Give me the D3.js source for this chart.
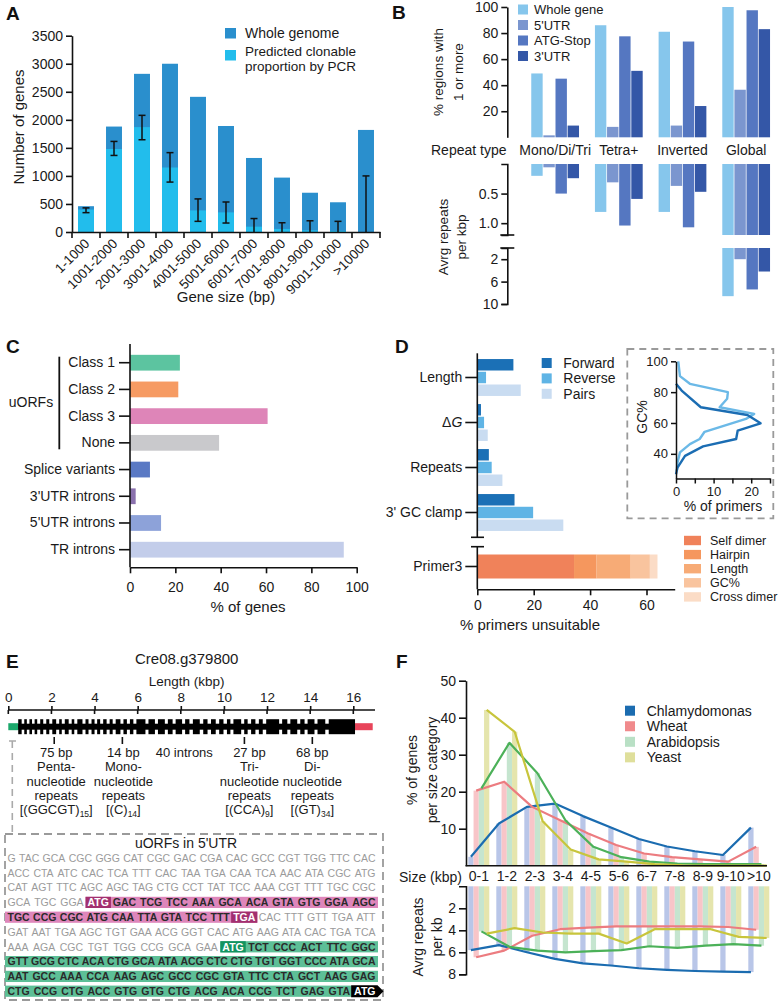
<!DOCTYPE html>
<html><head><meta charset="utf-8">
<script src="https://cdn.jsdelivr.net/npm/d3@7"></script>
<style>
body{margin:0;background:#fff}
svg{display:block;font-family:"Liberation Sans",Arial,Helvetica,sans-serif}
</style></head><body>
<svg id="fig" width="778" height="1001"></svg>
<script>
// ---------- DATA ----------
// Panel A
const sizeCats = ["1-1000","1001-2000","2001-3000","3001-4000","4001-5000","5001-6000","6001-7000","7001-8000","8001-9000","9001-10000",">10000"];
const wholeGenome = [460,1880,2820,3000,2410,1890,1320,970,700,530,1820];
const clonable = [400,1480,1870,1150,385,350,95,55,30,20,0];
const clonableLow = [345,1365,1645,890,190,160,0,0,0,0,0];
const clonableHigh = [430,1615,2080,1415,590,535,240,165,200,190,1000];
const yTicksA = [0,500,1000,1500,2000,2500,3000,3500];
// Panel B
const repeatTypes = ["Mono/Di/Tri","Tetra+","Inverted","Global"];
const regionNames = ["Whole gene","5'UTR","ATG-Stop","3'UTR"];
const pctWhole = [49,86,81,100];
const pct5UTR = [1.5,8,9,36.5];
const pctATG = [45,77.5,73.5,97.5];
const pct3UTR = [9,51,24,83];
const avgWhole = [0.2,0.81,0.81,8.6];
const avg5UTR = [0.056,0.31,0.37,2.0];
const avgATG = [0.5,1.04,1.07,7.4];
const avg3UTR = [0.24,0.59,0.47,4.2];
// Panel C
const featureCats = ["Class 1","Class 2","Class 3","None","Splice variants","3'UTR introns","5'UTR introns","TR introns"];
const featurePct = [22,21.3,60.7,39.3,8.8,2.5,13.7,94.3];
// Panel D
const checkCats = ["Length","ΔG","Repeats","3' GC clamp"];
const primerSets = ["Forward","Reverse","Pairs"];
const fwdPct = [12.8,1.3,4.1,13.2];
const revPct = [3.1,2.4,5.1,19.8];
const pairPct = [15.4,3.7,8.9,30.5];
const primer3Reasons = ["Self dimer","Hairpin","Length","GC%","Cross dimer"];
const primer3Pct = [34.3,8.0,12.1,6.8,2.7];
const insetFwdPct = [0,1.5,6.6,19,22.5,16.4,16,7.2,2.4,0.4,0];
const insetFwdGC = [85.4,81,70.2,65.2,59.8,55,49.6,44.8,38.7,31.1,26.7];
const insetRevPct = [0.6,1.05,3.7,13.8,13.6,11.6,20.8,18.6,7.6,6.3,3.7,1.05,0.4,0.2];
const insetRevGC = [100,90.4,85.4,80,75.7,70.2,65.9,62.6,54.3,49.6,46.3,40.9,34.3,28.9];
// Panel E
const geneLenTicks = [0,2,4,6,8,10,12,14,16];
const utr5 = [0,0.46];
const utr3 = [16.08,16.9];
const exons = [[0.46,0.62],[0.74,0.86],[0.98,1.10],[1.22,1.34],[1.48,1.62],[1.76,1.90],[2.04,2.22],[2.36,2.48],[2.62,2.80],[2.94,3.06],
 [3.20,3.44],[3.58,3.72],[3.86,4.00],[4.12,4.26],[4.40,4.56],[4.70,4.84],[4.98,5.20],[5.34,5.50],[5.64,5.80],[5.94,6.36],
 [6.50,6.80],[6.94,7.26],[7.40,7.62],[7.76,8.06],[8.20,8.40],[8.56,8.88],[9.04,9.24],[9.40,9.62],[9.78,9.98],[10.14,10.30],
 [10.44,10.80],[10.94,11.10],[11.26,11.46],[11.62,11.80],[11.96,12.56],[12.70,12.94],[13.08,13.40],[13.54,13.74],[13.88,14.20],[14.34,14.70],[14.86,16.08]];
const repeatPos = [2.13,5.29,10.95,14.1];
const repeatSize = ["75 bp","14 bp","27 bp","68 bp"];
const repeatKind = ["Penta-","Mono-","Tri-","Di-"];
const repeatMotif = ["(GGCGT)","(C)","(CCA)","(GT)"];
const repeatCount = ["15","14","9","34"];
const seqLines = [
  "G TAC GCA CGC GGG CAT CGC GAC CGA CAC GCC CGT TGG TTC CAC",
  "ACC CTA ATC CAC TCA TTT CAC TAA TGA CAA TCA AAC ATA CGC ATG",
  "CAT AGT TTC AGC AGC TAG CTG CCT TAT TCC AAA CGT TTT TGC CGC",
  "GCA TGC GGA ATG GAC TCG TCC AAA GCA ACA GTA GTG GGA AGC",
  "TGC CCG CGC ATG CAA TTA GTA TCC TTT TGA CAC TTT GTT TGA ATT",
  "GAT AAT TGA AGC TGT GAA ACG GGT CAC ATG AAG ATA CAC TGA TCA",
  "AAA AGA CGC TGT TGG CCG GCA GAA ATG TCT CCC ACT TTC GGC",
  "GTT GCG CTC ACA CTG GCA ATA ACG CTC CTG TGT GGT CCC ATA GCA",
  "AAT GCC AAA CCA AAG AGC GCC CGC GTA TTC CTA GCT AAG GAG",
  "CTG CCG CTG ACC GTG GTG CTG ACG ACA CCG TCT GAG GTA ATG"
];
const seqMarks = [
  "ggggggggggggggg","ggggggggggggggg","ggggggggggggggg","gggPpppppppppp","pppppppppPggggg",
  "ggggggggggggggg","ggggggggEeeeee","eeeeeeeeeeeeeee","eeeeeeeeeeeeee","eeeeeeeeeeeeeK"
];
// Panel F
const sizeBins = ["0-1","1-2","2-3","3-4","4-5","5-6","6-7","7-8","8-9","9-10",">10"];
const species = ["Chlamydomonas","Wheat","Arabidopsis","Yeast"];
const pctChlamy = [2.4,11.4,15.9,16.8,13.4,10.3,7.2,5.2,3.9,2.9,10.3];
const pctWheat = [20.3,22.7,15.9,12.3,8.7,5.6,3.3,2.3,1.7,1.1,5.1];
const pctArab = [20.9,33.2,25,12.3,5.1,2.3,1.1,0.6,0.4,0.4,0.4];
const pctYeast = [42.1,36.2,12,4.4,1.7,1.1,0.4,0.1,0,0,0];
const repChlamy = [5.8,5.35,6.0,6.6,7.0,7.2,7.45,7.6,7.7,7.75,7.8];
const repWheat = [6.45,5.85,4.5,3.9,3.75,3.65,3.65,3.65,3.65,3.7,3.95];
const repArab = [4.1,5.5,5.85,6.0,5.9,5.8,5.45,5.6,5.4,5.25,5.4];
const repYeast = [4.3,3.8,4.2,4.3,4.3,5.2,3.9,3.9,3.9,4.6,4.7];

// ---------- HELPERS ----------
const svg = d3.select("#fig");
const INK = "#1a1a1a";
function txt(g, x, y, s, o = {}) {
  const t = g.append("text").attr("x", x).attr("y", y).text(s)
    .attr("font-size", o.size || 14).attr("fill", o.fill || INK)
    .attr("text-anchor", o.anchor || "start");
  if (o.weight) t.attr("font-weight", o.weight);
  if (o.dy) t.attr("dy", o.dy);
  if (o.rotate) t.attr("transform", `rotate(${o.rotate},${x},${y})`);
  return t;
}
function styleAxis(g, size = 14, sw = 1.6) {
  g.attr("font-family", null).attr("font-size", size);
  g.selectAll("path.domain").attr("stroke", "#111").attr("stroke-width", sw);
  g.selectAll(".tick line").attr("stroke", "#111").attr("stroke-width", sw);
  g.selectAll(".tick text").attr("fill", INK);
  return g;
}
function vline(g, x, y1, y2, sw = 1.6, col = "#111") {
  return g.append("line").attr("x1", x).attr("x2", x).attr("y1", y1).attr("y2", y2).attr("stroke", col).attr("stroke-width", sw);
}
function hline(g, x1, x2, y, sw = 1.6, col = "#111") {
  return g.append("line").attr("x1", x1).attr("x2", x2).attr("y1", y).attr("y2", y).attr("stroke", col).attr("stroke-width", sw);
}
function panelLetter(x, y, s) { txt(svg, x, y, s, { size: 19, weight: "bold", fill: "#111" }); }

// ---------- PANEL A ----------
(function () {
  const g = svg.append("g");
  const x = d3.scaleBand().domain(sizeCats).range([72, 380]).paddingInner(0.43).paddingOuter(0.215);
  const y = d3.scaleLinear().domain([0, 3500]).range([232, 35.7]);
  g.selectAll("rect.w").data(sizeCats).join("rect").attr("class", "w")
    .attr("x", d => x(d)).attr("width", x.bandwidth())
    .attr("y", (d, i) => y(wholeGenome[i])).attr("height", (d, i) => y(0) - y(wholeGenome[i])).attr("fill", "#2a8fcd");
  g.selectAll("rect.c").data(sizeCats).join("rect").attr("class", "c")
    .attr("x", d => x(d)).attr("width", x.bandwidth())
    .attr("y", (d, i) => y(clonable[i])).attr("height", (d, i) => y(0) - y(clonable[i])).attr("fill", "#22bdec");
  sizeCats.forEach((d, i) => {
    const cx = x(d) + x.bandwidth() / 2;
    vline(g, cx, y(clonableLow[i]), y(clonableHigh[i]), 1.5);
    hline(g, cx - 3.5, cx + 3.5, y(clonableHigh[i]), 1.5);
    if (clonableLow[i] > 0) hline(g, cx - 3.5, cx + 3.5, y(clonableLow[i]), 1.5);
  });
  const ay = g.append("g").attr("transform", "translate(72,0)")
    .call(d3.axisLeft(y).tickValues(yTicksA).tickFormat(d3.format("d")).tickSize(6).tickSizeOuter(0));
  styleAxis(ay, 14);
  const ax = g.append("g").attr("transform", "translate(0,232)")
    .call(d3.axisBottom(x).tickSize(0).tickSizeOuter(0));
  styleAxis(ax, 13.5);
  ax.selectAll(".tick text").attr("x", 0).attr("y", 0).attr("dy", "0.35em")
    .attr("text-anchor", "end").attr("transform", "translate(1,9) rotate(-45)");
  const half = (x.step() - x.bandwidth()) / 2;
  sizeCats.forEach(d => vline(g, x(d) - half, 232, 238));
  vline(g, x(sizeCats[sizeCats.length - 1]) + x.bandwidth() + half, 232, 238);
  txt(g, 226, 302, "Gene size (bp)", { size: 15, anchor: "middle" });
  txt(g, 18.5, 127, "Number of genes", { size: 15, anchor: "middle", rotate: -90, dy: "0.35em" });
  // legend
  g.append("rect").attr("x", 225).attr("y", 28).attr("width", 11).attr("height", 10.5).attr("fill", "#2a8fcd");
  g.append("rect").attr("x", 225).attr("y", 50).attr("width", 11).attr("height", 10.5).attr("fill", "#22bdec");
  txt(g, 245, 33, "Whole genome", { size: 14, dy: "0.35em" });
  txt(g, 245, 51.5, "Predicted clonable", { size: 13.5, dy: "0.35em" });
  txt(g, 245, 65.8, "proportion by PCR", { size: 13.5, dy: "0.35em" });
  panelLetter(6, 20, "A");
})();

// ---------- PANEL B ----------
(function () {
  const g = svg.append("g");
  const colors = ["#86c6ec", "#7b96cf", "#5577c1", "#3457a7"];
  const pctBy = [pctWhole, pct5UTR, pctATG, pct3UTR];
  const avgBy = [avgWhole, avg5UTR, avgATG, avg3UTR];
  const x0 = d3.scaleBand().domain(repeatTypes).range([523.3, 778]).paddingInner(0.25).paddingOuter(0.125);
  const x1 = d3.scaleBand().domain(regionNames).range([0, x0.bandwidth()]).paddingInner(0.06);
  const yT = d3.scaleLinear().domain([0, 100]).range([137.3, 7]);
  const yU = d3.scaleLinear().domain([0, 1.2]).range([164, 235]);
  const yL = d3.scaleLinear().domain([0, 10]).range([248, 304]);
  repeatTypes.forEach((rt, i) => {
    regionNames.forEach((rn, j) => {
      const bx = x0(rt) + x1(rn), bw = x1.bandwidth();
      const v = pctBy[j][i];
      g.append("rect").attr("x", bx).attr("width", bw).attr("y", yT(v)).attr("height", yT(0) - yT(v)).attr("fill", colors[j]);
      const a = avgBy[j][i];
      if (a <= 1.2) {
        g.append("rect").attr("x", bx).attr("width", bw).attr("y", yU(0)).attr("height", yU(a) - yU(0)).attr("fill", colors[j]);
      } else {
        g.append("rect").attr("x", bx).attr("width", bw).attr("y", yU(0)).attr("height", yU(1.2) - yU(0)).attr("fill", colors[j]);
        g.append("rect").attr("x", bx).attr("width", bw).attr("y", yL(0)).attr("height", yL(a) - yL(0)).attr("fill", colors[j]);
      }
    });
    txt(g, x0(rt) + x0.bandwidth() / 2, 150, rt, { size: 14, anchor: "middle", dy: "0.35em" });
  });
  txt(g, 431, 150, "Repeat type", { size: 14, dy: "0.35em" });
  const at = g.append("g").attr("transform", "translate(507.3,0)")
    .call(d3.axisLeft(yT).tickValues([20, 40, 60, 80, 100]).tickSize(6).tickSizeOuter(0));
  styleAxis(at, 14);
  const au = g.append("g").attr("transform", "translate(507.3,0)")
    .call(d3.axisLeft(yU).tickValues([0.5, 1.0]).tickFormat(d3.format(".1f")).tickSize(6).tickSizeOuter(6));
  styleAxis(au, 14);
  const al = g.append("g").attr("transform", "translate(507.3,0)")
    .call(d3.axisLeft(yL).tickValues([2, 6, 10]).tickSize(6).tickSizeOuter(6));
  styleAxis(al, 14);
  hline(g, 500.3, 514.3, 235);
  hline(g, 500.3, 514.3, 248);
  regionNames.forEach((rn, j) => {
    const cy = 9.5 + j * 15.5;
    g.append("rect").attr("x", 518).attr("y", cy - 5).attr("width", 10).attr("height", 10).attr("fill", colors[j]);
    txt(g, 534, cy, rn, { size: 13, dy: "0.35em" });
  });
  txt(g, 438, 72, "% regions with", { size: 13.5, anchor: "middle", rotate: -90, dy: "0.35em" });
  txt(g, 458, 72, "1 or more", { size: 13.5, anchor: "middle", rotate: -90, dy: "0.35em" });
  txt(g, 443, 237, "Avrg repeats", { size: 13.5, anchor: "middle", rotate: -90, dy: "0.35em" });
  txt(g, 461, 237, "per kbp", { size: 13.5, anchor: "middle", rotate: -90, dy: "0.35em" });
  panelLetter(392, 19, "B");
})();

// ---------- PANEL C ----------
(function () {
  const g = svg.append("g");
  const colors = ["#5cc4a0", "#f69b63", "#de85b8", "#c9c9cc", "#5a79c4", "#8a71ad", "#8da2d9", "#c3cdea"];
  const y = d3.scaleBand().domain(featureCats).range([349.35, 563.05]).paddingInner(0.41).paddingOuter(0.205);
  const x = d3.scaleLinear().domain([0, 100]).range([130, 356.7]);
  g.selectAll("rect").data(featureCats).join("rect")
    .attr("x", x(0)).attr("y", d => y(d)).attr("height", y.bandwidth())
    .attr("width", (d, i) => x(featurePct[i]) - x(0)).attr("fill", (d, i) => colors[i]);
  const ay = g.append("g").attr("transform", "translate(130,0)")
    .call(d3.axisLeft(y).tickSize(11).tickSizeOuter(0).tickPadding(4));
  styleAxis(ay, 14);
  ay.select("path.domain").remove();
  vline(g, 130, 344, 567.3);
  const ax = g.append("g").attr("transform", "translate(0,567.3)")
    .call(d3.axisBottom(x).tickValues([0, 20, 40, 60, 80, 100]).tickSize(6).tickSizeOuter(0).tickPadding(9));
  styleAxis(ax, 14);
  txt(g, 248, 612, "% of genes", { size: 15, anchor: "middle" });
  vline(g, 59.3, 356.7, 449.3, 1.8);
  txt(g, 31, 402.5, "uORFs", { size: 14, anchor: "middle", dy: "0.35em" });
  panelLetter(6, 353, "C");
})();

// ---------- PANEL D ----------
(function () {
  const g = svg.append("g");
  const setColors = ["#1b70b6", "#5fb4e5", "#c9dcf1"];
  const p3Colors = ["#f0825a", "#f5975e", "#f7ab76", "#f9c49e", "#fbdcc6"];
  const byset = [fwdPct, revPct, pairPct];
  const x = d3.scaleLinear().domain([0, 70]).range([477.3, 674.7]);
  const y0 = d3.scaleBand().domain(checkCats).range([355, 535]).paddingInner(0.18).paddingOuter(0.09);
  const y1 = d3.scaleBand().domain(primerSets).range([0, y0.bandwidth()]).paddingInner(0.1);
  const yP = d3.scaleBand().domain(["Primer3"]).range([554.5, 578.5]);
  checkCats.forEach((c, i) => {
    primerSets.forEach((s, j) => {
      g.append("rect").attr("x", x(0)).attr("y", y0(c) + y1(s)).attr("height", y1.bandwidth())
        .attr("width", x(byset[j][i]) - x(0)).attr("fill", setColors[j]);
    });
  });
  let cum = 0;
  primer3Reasons.forEach((r, i) => {
    g.append("rect").attr("x", x(cum)).attr("y", yP("Primer3")).attr("height", yP.bandwidth())
      .attr("width", x(cum + primer3Pct[i]) - x(cum)).attr("fill", p3Colors[i]);
    cum += primer3Pct[i];
  });
  const ay = g.append("g").attr("transform", "translate(477.3,0)")
    .call(d3.axisLeft(y0).tickSize(12).tickSizeOuter(0).tickPadding(3));
  styleAxis(ay, 14);
  ay.select("path.domain").remove();
  ay.selectAll(".tick text").filter(d => d === "ΔG").each(function () {
    const t = d3.select(this); t.text("");
    t.append("tspan").text("Δ");
    t.append("tspan").attr("font-style", "italic").text("G");
  });
  const ap = g.append("g").attr("transform", "translate(477.3,0)")
    .call(d3.axisLeft(yP).tickSize(12).tickSizeOuter(0).tickPadding(3));
  styleAxis(ap, 14);
  ap.select("path.domain").remove();
  vline(g, 477.3, 353.3, 537.3);
  vline(g, 477.3, 546.7, 589.3);
  hline(g, 471, 484, 537.3);
  hline(g, 471, 484, 546.7);
  const ax = g.append("g").attr("transform", "translate(0,589.3)")
    .call(d3.axisBottom(x).tickValues([0, 20, 40, 60]).tickSize(6).tickSizeOuter(0).tickPadding(5));
  styleAxis(ax, 14);
  txt(g, 530, 630, "% primers unsuitable", { size: 15, anchor: "middle" });
  primerSets.forEach((s, j) => {
    const cy = 363 + j * 15.4;
    g.append("rect").attr("x", 541.7).attr("y", cy - 5).attr("width", 10).attr("height", 10).attr("fill", setColors[j]);
    txt(g, 563.3, cy, s, { size: 14, dy: "0.35em" });
  });
  primer3Reasons.forEach((r, i) => {
    const cy = 540.5 + i * 14.1;
    g.append("rect").attr("x", 684).attr("y", cy - 4.7).attr("width", 17).attr("height", 9.4).attr("fill", p3Colors[i]);
    txt(g, 710, cy, r, { size: 12.5, dy: "0.35em" });
  });
  // inset
  g.append("rect").attr("x", 627.3).attr("y", 349).attr("width", 146).attr("height", 169.3)
    .attr("fill", "none").attr("stroke", "#9a9a9a").attr("stroke-width", 1.8).attr("stroke-dasharray", "7,5");
  const xi = d3.scaleLinear().domain([0, 25]).range([676, 770]);
  const yi = d3.scaleLinear().domain([24, 100]).range([478.5, 361.3]);
  const line = d3.line().x(d => xi(d[0])).y(d => yi(d[1]));
  g.append("path").datum(insetRevPct.map((p, i) => [p, insetRevGC[i]])).attr("d", line)
    .attr("fill", "none").attr("stroke", "#6bb9e7").attr("stroke-width", 2.4).attr("stroke-linejoin", "round");
  g.append("path").datum(insetFwdPct.map((p, i) => [p, insetFwdGC[i]])).attr("d", line)
    .attr("fill", "none").attr("stroke", "#1b6db3").attr("stroke-width", 2.4).attr("stroke-linejoin", "round");
  const aiy = g.append("g").attr("transform", "translate(676,0)")
    .call(d3.axisLeft(yi).tickValues([40, 60, 80, 100]).tickSize(5).tickSizeOuter(0).tickPadding(3));
  styleAxis(aiy, 13, 1.5);
  const aix = g.append("g").attr("transform", "translate(0,478.5)")
    .call(d3.axisBottom(xi).tickValues([0, 5, 10, 15, 20, 25]).tickFormat(d => d % 10 === 0 ? d : "").tickSize(5).tickSizeOuter(0).tickPadding(3));
  styleAxis(aix, 13, 1.5);
  txt(g, 642.5, 417, "GC%", { size: 14, anchor: "middle", rotate: -90, dy: "0.35em" });
  txt(g, 723, 511, "% of primers", { size: 14, anchor: "middle" });
  panelLetter(395, 353, "D");
})();

// ---------- PANEL E ----------
(function () {
  const g = svg.append("g");
  const x = d3.scaleLinear().domain([0, 16]).range([8.3, 353.3]);
  txt(g, 186.7, 658.5, "Cre08.g379800", { size: 15, anchor: "middle", dy: "0.35em" });
  txt(g, 186.7, 681.7, "Length (kbp)", { size: 13.5, anchor: "middle", dy: "0.35em" });
  const ax = g.append("g").attr("transform", "translate(0,710)")
    .call(d3.axisTop(x).tickValues(geneLenTicks).tickSize(4).tickSizeOuter(0).tickPadding(4));
  styleAxis(ax, 13.5);
  ax.select("path.domain").remove();
  hline(g, 8, 375, 710);
  geneLenTicks.forEach(t => vline(g, x(t), 710, 714));
  const gy = 726.7;
  g.append("rect").attr("x", x(utr5[0])).attr("width", x(utr5[1]) - x(utr5[0])).attr("y", gy - 3.5).attr("height", 7).attr("fill", "#1ca86c");
  g.append("rect").attr("x", x(utr3[0])).attr("width", x(utr3[1]) - x(utr3[0])).attr("y", gy - 3.5).attr("height", 7).attr("fill", "#e8445a");
  g.append("rect").attr("x", x(exons[0][0])).attr("width", x(exons[exons.length - 1][1]) - x(exons[0][0])).attr("y", gy - 3).attr("height", 6).attr("fill", "#000");
  g.selectAll("rect.ex").data(exons).join("rect").attr("class", "ex")
    .attr("x", d => x(d[0])).attr("width", d => x(d[1]) - x(d[0])).attr("y", gy - 7.5).attr("height", 15).attr("fill", "#000");
  const offs = [2, 1, 5, 0];
  repeatPos.forEach((p, i) => {
    vline(g, x(p), 737, 744, 1.6);
    const cx = x(p) + offs[i];
    txt(g, cx, 752.7, repeatSize[i], { size: 13, anchor: "middle", dy: "0.35em" });
    txt(g, cx, 766.7, repeatKind[i], { size: 13, anchor: "middle", dy: "0.35em" });
    txt(g, cx, 781, "nucleotide", { size: 13, anchor: "middle", dy: "0.35em" });
    txt(g, cx, 795, "repeats", { size: 13, anchor: "middle", dy: "0.35em" });
    const t = txt(g, cx, 809.3, "", { size: 13, anchor: "middle", dy: "0.35em" });
    t.append("tspan").text("[" + repeatMotif[i]);
    t.append("tspan").attr("font-size", 8.5).attr("dy", "3").text(repeatCount[i]);
    t.append("tspan").attr("dy", "-3").text("]");
  });
  txt(g, 184.3, 752.7, "40 introns", { size: 13, anchor: "middle", dy: "0.35em" });
  // dashed connector and box
  hline(g, 9, 16, 741, 1.5, "#aaa");
  g.append("line").attr("x1", 12.3).attr("x2", 12.3).attr("y1", 741).attr("y2", 834)
    .attr("stroke", "#aaa").attr("stroke-width", 1.6).attr("stroke-dasharray", "7,5");
  g.append("rect").attr("x", 5).attr("y", 834).attr("width", 378).attr("height", 166)
    .attr("fill", "none").attr("stroke", "#9a9a9a").attr("stroke-width", 1.8).attr("stroke-dasharray", "8,5");
  txt(g, 186, 843.5, "uORFs in 5'UTR", { size: 14, anchor: "middle", dy: "0.35em" });
  // sequence
  const FS = 10.5;
  const meas = svg.append("text").attr("font-size", FS).attr("visibility", "hidden");
  function w(s, bold) { meas.attr("font-weight", bold ? "bold" : "normal").text(s); return meas.node().getComputedTextLength(); }
  const L = 7.5, R = 375.5;
  seqLines.forEach((line, li) => {
    const toks = line.split(" ");
    const marks = seqMarks[li];
    const ws = toks.map((t, k) => w(t, marks[k] !== "g"));
    const gap = (R - L - d3.sum(ws)) / (toks.length - 1);
    const xs = []; let cx = L;
    ws.forEach(v => { xs.push(cx); cx += v + gap; });
    const cy = 858 + li * 14.8;
    const spans = [["pP", "#de86bb"], ["eE", "#5dbf97"]];
    spans.forEach(([cls, col]) => {
      const idx = toks.map((t, k) => k).filter(k => cls.includes(marks[k]));
      if (!idx.length) return;
      const a = idx[0], b = idx[idx.length - 1];
      const x0 = a === 0 ? 5 : xs[a] - 2;
      let x1 = b === toks.length - 1 ? 378 : xs[b] + ws[b] + 2;
      if (marks[toks.length - 1] === "K" && b === toks.length - 2) x1 = xs[b + 1] - 3;
      g.append("rect").attr("x", x0).attr("y", cy - 5.6).attr("width", x1 - x0).attr("height", 11.2).attr("fill", col);
    });
    toks.forEach((t, k) => {
      const m = marks[k];
      if (m === "P" || m === "E") {
        g.append("rect").attr("x", xs[k] - 2).attr("y", cy - 5.6).attr("width", ws[k] + 4).attr("height", 11.2)
          .attr("fill", m === "P" ? "#a2306f" : "#139460");
      }
      if (m === "K") {
        const a = xs[k] - 3, b = xs[k] + ws[k] + 2;
        g.append("path").attr("d", `M${a},${cy - 6}L${b},${cy - 6}L${b + 6},${cy}L${b},${cy + 6}L${a},${cy + 6}Z`).attr("fill", "#000");
      }
      const fill = m === "g" ? "#9b9b9b" : (m === "p" || m === "e") ? "#2a2a2a" : "#fff";
      txt(g, xs[k], cy, t, { size: FS, fill, dy: "0.36em", weight: m === "g" ? null : "bold" });
    });
  });
  meas.remove();
  panelLetter(6, 668, "E");
})();

// ---------- PANEL F ----------
(function () {
  const g = svg.append("g");
  const barCols = ["#b9c6e8", "#f8c5c8", "#c5e5cf", "#e5e5ad"];
  const lineCols = ["#1b6cb0", "#ec7c80", "#4cb159", "#c8c53c"];
  const legCols = ["#1b6cb0", "#f08a8c", "#b9e0c5", "#dfdf9b"];
  const pctBy = [pctChlamy, pctWheat, pctArab, pctYeast];
  const repBy = [repChlamy, repWheat, repArab, repYeast];
  const x = d3.scaleBand().domain(sizeBins).range([466.9, 770.7]).paddingInner(0.25).paddingOuter(0.05);
  const x1 = d3.scaleBand().domain(species).range([0, x.bandwidth()]);
  const yT = d3.scaleLinear().domain([0, 50]).range([865.7, 680.7]);
  const yB = d3.scaleLinear().domain([0, 8]).range([886.3, 974.3]);
  species.forEach((sp, j) => {
    sizeBins.forEach((b, i) => {
      const bx = x(b) + x1(sp);
      g.append("rect").attr("x", bx).attr("width", x1.bandwidth()).attr("y", yT(pctBy[j][i])).attr("height", yT(0) - yT(pctBy[j][i])).attr("fill", barCols[j]);
      g.append("rect").attr("x", bx).attr("width", x1.bandwidth()).attr("y", yB(0)).attr("height", yB(repBy[j][i]) - yB(0)).attr("fill", barCols[j]);
    });
  });
  const cxs = (sp, b) => x(b) + x1(sp) + x1.bandwidth() / 2;
  species.forEach((sp, j) => {
    const lt = d3.line().x((d, i) => cxs(sp, sizeBins[i])).y(d => yT(d));
    g.append("path").datum(pctBy[j]).attr("d", lt).attr("fill", "none").attr("stroke", lineCols[j]).attr("stroke-width", 2.2).attr("stroke-linejoin", "round");
    const lb = d3.line().x((d, i) => cxs(sp, sizeBins[i])).y(d => yB(d));
    g.append("path").datum(repBy[j]).attr("d", lb).attr("fill", "none").attr("stroke", lineCols[j]).attr("stroke-width", 2.2).attr("stroke-linejoin", "round");
  });
  const ay = g.append("g").attr("transform", "translate(466,0)")
    .call(d3.axisLeft(yT).tickValues([10, 20, 30, 40, 50]).tickSize(7).tickSizeOuter(0).tickPadding(3));
  styleAxis(ay, 14);
  const ax = g.append("g").attr("transform", "translate(0,865.7)")
    .call(d3.axisBottom(x).tickSize(0).tickSizeOuter(0).tickPadding(5));
  styleAxis(ax, 14);
  ax.select("path.domain").attr("d", "M465.5,0H767");
  const ab = g.append("g").attr("transform", "translate(466,0)")
    .call(d3.axisLeft(yB).tickValues([2, 4, 6, 8]).tickSize(7).tickSizeOuter(7).tickPadding(3));
  styleAxis(ab, 14);
  txt(g, 462, 876.7, "Size (kbp)", { size: 14, anchor: "end", dy: "0.35em" });
  txt(g, 411.7, 770, "% of genes", { size: 14, anchor: "middle", rotate: -90, dy: "0.35em" });
  txt(g, 431.7, 770, "per size category", { size: 14, anchor: "middle", rotate: -90, dy: "0.35em" });
  txt(g, 418, 937, "Avrg repeats", { size: 14, anchor: "middle", rotate: -90, dy: "0.35em" });
  txt(g, 436.7, 937, "per kb", { size: 14, anchor: "middle", rotate: -90, dy: "0.35em" });
  species.forEach((sp, j) => {
    const cy = 710.7 + j * 15.55;
    g.append("rect").attr("x", 625).attr("y", cy - 5).attr("width", 10).attr("height", 10).attr("fill", legCols[j]);
    txt(g, 646.7, cy, sp, { size: 14, dy: "0.35em" });
  });
  panelLetter(396, 668, "F");
})();
</script>
</body></html>
